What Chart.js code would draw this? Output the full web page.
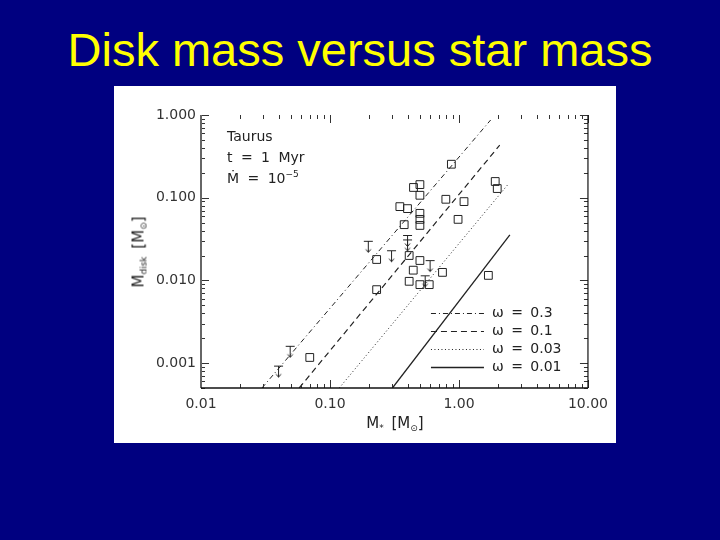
<!DOCTYPE html>
<html>
<head>
<meta charset="utf-8">
<title>Disk mass versus star mass</title>
<script src="https://cdn.jsdelivr.net/npm/chart.js@4.4.1/dist/chart.umd.min.js"></script>
<style>
  html, body { margin: 0; padding: 0; }
  body {
    width: 720px; height: 540px; position: relative; overflow: hidden;
    background: #000080; font-family: "DejaVu Sans", sans-serif;
  }
  #title {
    position: absolute; left: 0; top: 26px; width: 720px; text-align: center;
    color: #ffff00; font: 47px/1 "Liberation Sans", Arial, sans-serif;
  }
  #panel { position: absolute; left: 114px; top: 86px; width: 502px; height: 357px; background: #fff; }
  #chart { position: absolute; left: 0; top: 0; }
  .txt { position: absolute; color: #222; font-size: 14px; line-height: 1; white-space: nowrap; word-spacing: 4px; }
  .txt sub { font-size: 9px; vertical-align: -3px; }
  .txt sup { font-size: 9px; vertical-align: 6px; }
  .ctr { transform: translate(-50%, -50%); }
  #ytitle { transform: translate(-50%, -50%) rotate(-90deg); font-size: 15px; word-spacing: 3px; }
  #xtitle { font-size: 15px; word-spacing: 3px; }
</style>
</head>
<body>
<div id="title">Disk mass versus star mass</div>
<div id="panel"><canvas id="chart" width="502" height="357"></canvas></div>
<div class="txt" style="left:227px; top:129px;">Taurus</div>
<div class="txt" style="left:227px; top:150px;">t = 1 Myr</div>
<div class="txt" style="left:227px; top:170px;">Ṁ = 10<sup>−5</sup></div>
<div class="txt" id="ytitle" style="left:140px; top:252px;">M<sub>disk</sub> [M<sub>⊙</sub>]</div>
<div class="txt ctr" id="xtitle" style="left:395px; top:424px;">M<sub>*</sub> [M<sub>⊙</sub>]</div>
<script>
"use strict";

// axis ticks
const xTickValues = [0.01, 0.1, 1, 10];
const xTickLabels = ["0.01", "0.10", "1.00", "10.00"];
const yTickValues = [0.001, 0.01, 0.1, 1];
const yTickLabels = ["0.001", "0.010", "0.100", "1.000"];

// detections (squares): stellar mass, disk mass
const detStar = [0.873, 0.498, 0.444, 0.498, 0.791, 1.094, 0.348, 0.399, 0.376, 0.498, 0.498, 0.498, 0.984,
                 0.230, 0.411, 0.498, 0.745, 0.442, 0.411, 0.498, 0.588, 0.230, 1.98, 1.91, 1.69, 0.0697];
const detDisk = [0.254, 0.144, 0.133, 0.107, 0.0957, 0.0897, 0.078, 0.0738, 0.0472, 0.0647, 0.0547, 0.0462, 0.0547,
                 0.0179, 0.020, 0.0174, 0.0125, 0.0133, 0.00975, 0.00889, 0.00889, 0.00773, 0.129, 0.157, 0.0115, 0.00117];

// upper limits (arrows)
const limStar = [0.198, 0.399, 0.399, 0.300, 0.597, 0.547, 0.0491, 0.0399];
const limDisk = [0.0255, 0.0300, 0.0265, 0.0196, 0.0149, 0.00975, 0.00137, 0.00079];

// model lines, endpoints
const omegaLabels = ["ω = 0.3", "ω = 0.1", "ω = 0.03", "ω = 0.01"];
const omegaStar = [[0.0297, 1.76], [0.0577, 2.07], [0.118, 2.41], [0.305, 2.48]];
const omegaDisk = [[0.0005, 0.87], [0.0005, 0.432], [0.0005, 0.146], [0.0005, 0.0356]];
const omegaDash = [[5, 3, 1, 3], [6, 4], [1, 2.5], []];
const omegaWidth = [1, 1.2, 1, 1.3];

const INK = "#222";

function pairs(xs, ys) { return xs.map((v, i) => ({ x: v, y: ys[i] })); }

// upper-limit marker: bar with arrow pointing down
function makeLimitMarker() {
  const c = document.createElement("canvas");
  c.width = 11; c.height = 14;
  const g = c.getContext("2d");
  g.strokeStyle = INK; g.lineWidth = 1;
  g.beginPath();
  g.moveTo(1, 1.5); g.lineTo(10, 1.5);
  g.moveTo(5.5, 1.5); g.lineTo(5.5, 12.5);
  g.moveTo(3, 9.5); g.lineTo(5.5, 12.5); g.lineTo(8, 9.5);
  g.stroke();
  return c;
}

function isDecade(v) {
  const l = Math.log10(v);
  return Math.abs(l - Math.round(l)) < 1e-6;
}

function logSteps(min, max) {
  const out = [];
  for (let e = Math.floor(Math.log10(min)) - 1; e <= Math.ceil(Math.log10(max)); e++) {
    for (let k = 1; k <= 9; k++) {
      const v = k * Math.pow(10, e);
      if (v >= min * 0.9999 && v <= max * 1.0001) out.push(v);
    }
  }
  return out;
}

// inward ticks on all four sides + axis lines + legend
const framePlugin = {
  id: "frame",
  afterDraw(chart) {
    const { ctx, chartArea: a, scales: { x, y } } = chart;
    ctx.save();
    ctx.strokeStyle = "#333";
    ctx.lineWidth = 1;
    ctx.beginPath();
    logSteps(x.min, x.max).forEach(v => {
      const px = Math.round(x.getPixelForValue(v)) + 0.5;
      const len = isDecade(v) ? 8 : 4;
      ctx.moveTo(px, a.bottom); ctx.lineTo(px, a.bottom - len);
      ctx.moveTo(px, a.top); ctx.lineTo(px, a.top + len);
    });
    logSteps(y.min, y.max).forEach(v => {
      const py = Math.round(y.getPixelForValue(v)) + 0.5;
      const len = isDecade(v) ? 8 : 4;
      ctx.moveTo(a.left, py); ctx.lineTo(a.left + len, py);
      ctx.moveTo(a.right, py); ctx.lineTo(a.right - len, py);
    });
    ctx.stroke();

    // left axis (grey, heavier), bottom and right axes
    ctx.strokeStyle = "#666"; ctx.lineWidth = 2;
    ctx.beginPath(); ctx.moveTo(a.left, a.top); ctx.lineTo(a.left, a.bottom); ctx.stroke();
    ctx.strokeStyle = "#111"; ctx.lineWidth = 1.5;
    ctx.beginPath(); ctx.moveTo(a.left, a.bottom); ctx.lineTo(a.right, a.bottom); ctx.stroke();
    ctx.lineWidth = 1.2;
    ctx.beginPath(); ctx.moveTo(a.right, a.top); ctx.lineTo(a.right, a.bottom); ctx.stroke();

    // legend, lower right inside the plot
    ctx.font = "14px 'DejaVu Sans'";
    if ("wordSpacing" in ctx) ctx.wordSpacing = "3px";
    ctx.fillStyle = INK;
    ctx.textBaseline = "middle";
    omegaLabels.forEach((lab, i) => {
      const ly = a.bottom - 75 + i * 18;
      ctx.strokeStyle = INK;
      ctx.lineWidth = omegaWidth[i];
      ctx.setLineDash(omegaDash[i]);
      ctx.beginPath(); ctx.moveTo(a.right - 157, ly + 0.5); ctx.lineTo(a.right - 104, ly + 0.5); ctx.stroke();
      ctx.setLineDash([]);
      ctx.fillText(lab, a.right - 96, ly);
    });
    ctx.restore();
  }
};

const lineSets = omegaLabels.map((lab, i) => ({
  type: "line",
  label: lab,
  data: pairs(omegaStar[i], omegaDisk[i]),
  borderColor: INK,
  borderWidth: omegaWidth[i],
  borderDash: omegaDash[i],
  pointRadius: 0,
  fill: false,
  tension: 0
}));

new Chart(document.getElementById("chart"), {
  type: "scatter",
  data: {
    datasets: [
      ...lineSets,
      {
        label: "detections",
        data: pairs(detStar, detDisk),
        pointStyle: "rect",
        pointRadius: 5.5,
        borderColor: INK,
        borderWidth: 1,
        backgroundColor: "rgba(0,0,0,0)"
      },
      {
        label: "upper limits",
        data: pairs(limStar, limDisk),
        pointStyle: makeLimitMarker(),
        pointRadius: 6
      }
    ]
  },
  options: {
    responsive: false,
    animation: false,
    layout: { padding: { left: 0, top: 29, right: 27, bottom: 0 } },
    plugins: { legend: { display: false }, tooltip: { enabled: false } },
    scales: {
      x: {
        type: "logarithmic",
        min: 0.01, max: 10,
        grid: { display: false, drawTicks: false },
        border: { display: false },
        afterBuildTicks(s) { s.ticks = xTickValues.map(v => ({ value: v })); },
        afterFit(s) { s.height = 55; },
        ticks: {
          autoSkip: false, maxRotation: 0, minRotation: 0, padding: 8,
          color: "#333", font: { family: "'DejaVu Sans'", size: 14 },
          callback: v => {
            const i = xTickValues.findIndex(t => Math.abs(t - v) / t < 1e-6);
            return i >= 0 ? xTickLabels[i] : "";
          }
        }
      },
      y: {
        type: "logarithmic",
        min: 0.0005, max: 1,
        grid: { display: false, drawTicks: false },
        border: { display: false },
        afterBuildTicks(s) { s.ticks = yTickValues.map(v => ({ value: v })); },
        afterFit(s) { s.width = 87; },
        ticks: {
          autoSkip: false, padding: 5,
          color: "#333", font: { family: "'DejaVu Sans'", size: 14 },
          callback: v => {
            const i = yTickValues.findIndex(t => Math.abs(t - v) / t < 1e-6);
            return i >= 0 ? yTickLabels[i] : "";
          }
        }
      }
    }
  },
  plugins: [framePlugin]
});
</script>
</body>
</html>
